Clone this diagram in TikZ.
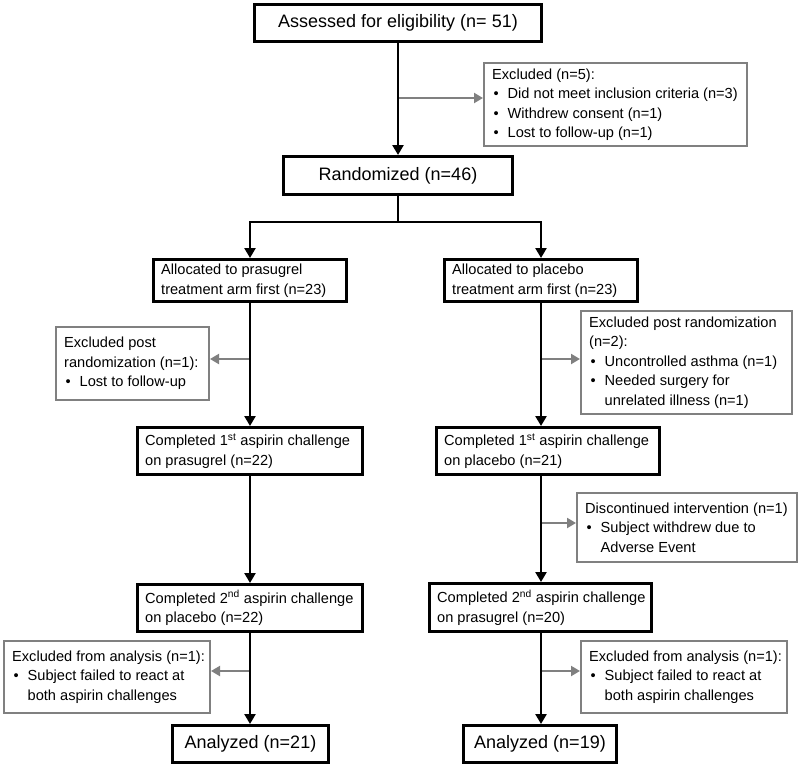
\documentclass[tikz,border=0pt]{standalone}
\usepackage{fontspec}
\setmainfont{Liberation Sans}
\usetikzlibrary{arrows.meta}
\definecolor{grayline}{RGB}{128,128,128}
\newcommand\itm{\makebox[15.5pt][l]{\hspace{1.5pt}\textbullet}}
\newcommand\cnt{\hspace*{15.5pt}}
\begin{document}
\begin{tikzpicture}[x=1pt,y=-1pt,
  bbox/.style={draw=black, line width=2.8pt, fill=white, inner sep=0pt},
  gbox/.style={draw=grayline, line width=1.8pt, fill=white, inner sep=0pt},
  big/.style={font=\fontsize{18}{22}\selectfont},
  txt/.style={inner sep=0pt, align=left, anchor=west, font=\fontsize{14.6}{19.5}\selectfont},
  flow/.style={draw=black, line width=2.8pt, -{Triangle[length=10pt,width=11pt]}},
  plain/.style={draw=black, line width=2.8pt},
  side/.style={draw=grayline, line width=2pt, -{Triangle[length=9pt,width=10pt]}},
]
\fill[white] (0,0) rectangle (800,768);
\useasboundingbox (0,0) rectangle (800,768);

% boxes
\node[bbox, big, minimum width=287.2pt, minimum height=37.2pt] (assess) at (398,23) {Assessed for eligibility (n= 51)};
\node[gbox, minimum width=263.2pt, minimum height=83.2pt] (excl0) at (615.5,104.5) {};
\node[txt] (excl0t) at ([xshift=9pt]excl0.west) {Excluded (n=5):\\
\itm Did not meet inclusion criteria (n=3)\\
\itm Withdrew consent (n=1)\\
\itm Lost to follow-up (n=1)};

\node[bbox, big, minimum width=229.2pt, minimum height=38.2pt] (rand) at (398,175.5) {Randomized (n=46)};

\node[bbox, minimum width=193.2pt, minimum height=42.2pt] (allocL) at (250,280.5) {};
\node[txt] (allocLt) at ([xshift=9pt]allocL.west) {Allocated to prasugrel\\treatment arm first (n=23)};
\node[bbox, minimum width=193.2pt, minimum height=42.2pt] (allocR) at (541,280.5) {};
\node[txt] (allocRt) at ([xshift=9pt]allocR.west) {Allocated to placebo\\treatment arm first (n=23)};

\node[gbox, minimum width=153.2pt, minimum height=73.2pt] (exclPL) at (132.5,363.5) {};
\node[txt] (exclPLt) at ([xshift=9pt]exclPL.west) {Excluded post\\randomization (n=1):\\\itm Lost to follow-up};
\node[gbox, minimum width=211.2pt, minimum height=103.2pt] (exclPR) at (686.5,362.5) {};
\node[txt] (exclPRt) at ([xshift=9pt]exclPR.west) {Excluded post randomization\\(n=2):\\
\itm Uncontrolled asthma (n=1)\\
\itm Needed surgery for\\
\cnt unrelated illness (n=1)};

\node[bbox, minimum width=225.2pt, minimum height=47.2pt] (comp1L) at (250,451) {};
\node[txt] (comp1Lt) at ([xshift=9pt]comp1L.west) {Completed 1\textsuperscript{st} aspirin challenge\\on prasugrel (n=22)};
\node[bbox, minimum width=223.2pt, minimum height=47.2pt] (comp1R) at (548,451) {};
\node[txt] (comp1Rt) at ([xshift=9pt]comp1R.west) {Completed 1\textsuperscript{st} aspirin challenge\\on placebo (n=21)};

\node[gbox, minimum width=220.2pt, minimum height=69.2pt] (disc) at (687,527.5) {};
\node[txt] (disct) at ([xshift=9pt]disc.west) {Discontinued intervention (n=1)\\
\itm Subject withdrew due to\\
\cnt Adverse Event};

\node[bbox, minimum width=225.2pt, minimum height=47.2pt] (comp2L) at (250,608) {};
\node[txt] (comp2Lt) at ([xshift=9pt]comp2L.west) {Completed 2\textsuperscript{nd} aspirin challenge\\on placebo (n=22)};
\node[bbox, minimum width=222.2pt, minimum height=48.2pt] (comp2R) at (540.5,607.5) {};
\node[txt] (comp2Rt) at ([xshift=9pt]comp2R.west) {Completed 2\textsuperscript{nd} aspirin challenge\\on prasugrel (n=20)};

\node[gbox, minimum width=206.2pt, minimum height=72.2pt] (exAL) at (107,677) {};
\node[txt] (exALt) at ([xshift=9pt]exAL.west) {Excluded from analysis (n=1):\\
\itm Subject failed to react at\\
\cnt both aspirin challenges};
\node[gbox, minimum width=206.2pt, minimum height=72.2pt] (exAR) at (684,677) {};
\node[txt] (exARt) at ([xshift=9pt]exAR.west) {Excluded from analysis (n=1):\\
\itm Subject failed to react at\\
\cnt both aspirin challenges};

\node[bbox, big, minimum width=156.2pt, minimum height=37.2pt] (anL) at (250.5,744) {Analyzed (n=21)};
\node[bbox, big, minimum width=153.2pt, minimum height=37.2pt] (anR) at (540,744) {Analyzed (n=19)};

% junction coordinates
\coordinate (j0) at (398,98);
\coordinate (split) at (398,222);
\coordinate (jL1) at (250,359);
\coordinate (jR1) at (541,359);
\coordinate (jR2) at (541,523);
\coordinate (jL3) at (250,671);
\coordinate (jR3) at (541,671);

% side arrows (grey)
\draw[side] (j0) -- (excl0.west |- j0);
\draw[side] (jL1) -- (exclPL.east |- jL1);
\draw[side] (jR1) -- (exclPR.west |- jR1);
\draw[side] (jR2) -- (disc.west |- jR2);
\draw[side] (jL3) -- (exAL.east |- jL3);
\draw[side] (jR3) -- (exAR.west |- jR3);

% main flow
\draw[flow] (assess) -- (rand);
\draw[plain] (rand) -- (split);
\draw[flow] (split) -| (allocL);
\draw[flow] (split) -| (allocR);
\draw[flow] (allocL) -- (comp1L);
\draw[flow] (comp1L) -- (comp2L);
\draw[flow] (comp2L) -- (anL.north -| comp2L);
\draw[flow] (allocR) -- (allocR |- comp1R.north);
\draw[flow] (allocR |- comp1R.south) -- (allocR |- comp2R.north);
\draw[flow] (allocR |- comp2R.south) -- (allocR |- anR.north);
\end{tikzpicture}
\end{document}
